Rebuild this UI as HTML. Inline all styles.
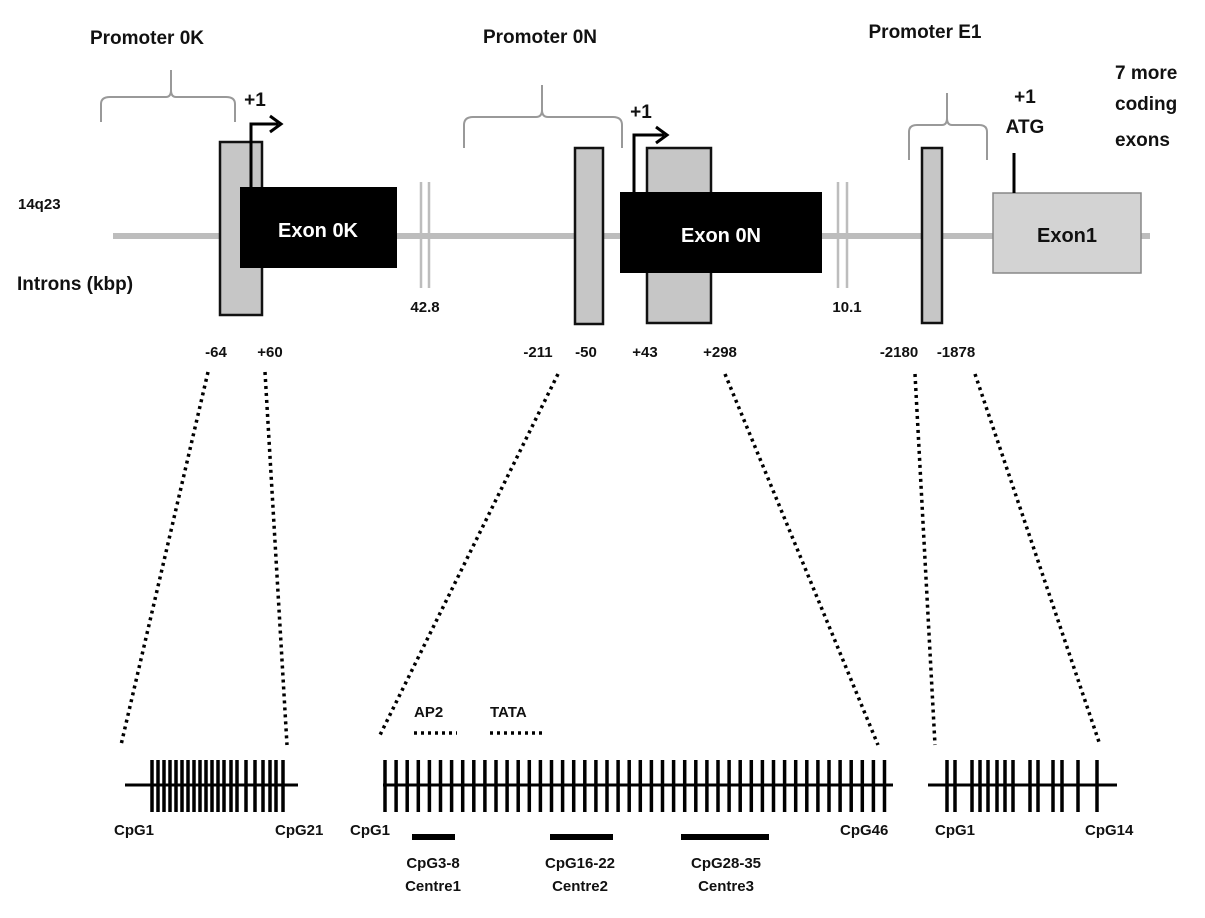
<!DOCTYPE html>
<html><head><meta charset="utf-8"><style>
html,body{margin:0;padding:0;background:#fff;}
svg{display:block;}
text{font-family:"Liberation Sans",sans-serif;font-weight:bold;fill:#111;}
</style></head><body>
<svg width="1205" height="918" viewBox="0 0 1205 918" xmlns="http://www.w3.org/2000/svg">
<line x1="113" y1="236" x2="1150" y2="236" stroke="#bdbdbd" stroke-width="6"/>
<g stroke="#bdbdbd" stroke-width="2.5">
<line x1="421" y1="182" x2="421" y2="288"/><line x1="429" y1="182" x2="429" y2="288"/>
<line x1="838" y1="182" x2="838" y2="288"/><line x1="847" y1="182" x2="847" y2="288"/>
</g>
<g fill="none" stroke="#999" stroke-width="2">
<path d="M101 122 V104 Q101 97 110 97 H166 Q171 97 171 90 V70 V90 Q171 97 176 97 H226 Q235 97 235 104 V122"/>
<path d="M464 148 V125 Q464 117 473 117 H536 Q542 117 542 110 V85 V110 Q542 117 548 117 H613 Q622 117 622 125 V148"/>
<path d="M909 160 V132 Q909 125 917 125 H942 Q947 125 947 118 V93 V118 Q947 125 952 125 H979 Q987 125 987 132 V160"/>
</g>
<g fill="#c6c6c6" stroke="#111" stroke-width="2.5">
<rect x="220" y="142" width="42" height="173"/>
<rect x="575" y="148" width="28" height="176"/>
<rect x="647" y="148" width="64" height="175"/>
<rect x="922" y="148" width="20" height="175"/>
</g>
<rect x="240" y="187" width="157" height="81" fill="#000"/>
<rect x="620" y="192" width="202" height="81" fill="#000"/>
<rect x="993" y="193" width="148" height="80" fill="#d3d3d3" stroke="#888" stroke-width="1.5"/>
<text x="318" y="237" font-size="20" style="fill:#fff" text-anchor="middle">Exon 0K</text>
<text x="721" y="242" font-size="20" style="fill:#fff" text-anchor="middle">Exon 0N</text>
<text x="1067" y="242" font-size="20" text-anchor="middle">Exon1</text>
<g fill="none" stroke="#000" stroke-width="3">
<path d="M251 187 V124 H278"/><path d="M270 116 L281 124 L270 132"/>
<path d="M634 192 V135 H664"/><path d="M656 127 L667 135 L656 143"/>
<line x1="1014" y1="153" x2="1014" y2="193"/>
</g>
<g font-size="19">
<text x="147" y="44" text-anchor="middle">Promoter 0K</text>
<text x="540" y="43" text-anchor="middle">Promoter 0N</text>
<text x="925" y="38" text-anchor="middle">Promoter E1</text>
<text x="255" y="106" text-anchor="middle">+1</text>
<text x="641" y="118" text-anchor="middle">+1</text>
<text x="1025" y="103" text-anchor="middle">+1</text>
<text x="1025" y="133" text-anchor="middle">ATG</text>
<text x="1115" y="79">7 more</text>
<text x="1115" y="110">coding</text>
<text x="1115" y="146">exons</text>
<text x="17" y="290">Introns (kbp)</text>
</g>
<g font-size="15">
<text x="18" y="209">14q23</text>
<text x="425" y="312" text-anchor="middle">42.8</text>
<text x="847" y="312" text-anchor="middle">10.1</text>
<text x="216" y="357" text-anchor="middle">-64</text>
<text x="270" y="357" text-anchor="middle">+60</text>
<text x="538" y="357" text-anchor="middle">-211</text>
<text x="586" y="357" text-anchor="middle">-50</text>
<text x="645" y="357" text-anchor="middle">+43</text>
<text x="720" y="357" text-anchor="middle">+298</text>
<text x="899" y="357" text-anchor="middle">-2180</text>
<text x="956" y="357" text-anchor="middle">-1878</text>
</g>
<g stroke="#000" stroke-width="3.5" stroke-dasharray="3 4" fill="none">
<line x1="208" y1="372" x2="121" y2="745"/>
<line x1="265" y1="372" x2="287" y2="745"/>
<line x1="558" y1="374" x2="380" y2="735"/>
<line x1="725" y1="374" x2="878" y2="745"/>
<line x1="915" y1="374" x2="935" y2="745"/>
<line x1="975" y1="374" x2="1100" y2="745"/>
<line x1="414" y1="733" x2="457" y2="733"/>
<line x1="490" y1="733" x2="543" y2="733"/>
</g>
<g stroke="#000" stroke-width="3" fill="none">
<line x1="125" y1="785" x2="298" y2="785"/>
<line x1="383" y1="785" x2="893" y2="785"/>
<line x1="928" y1="785" x2="1117" y2="785"/>
</g>
<g stroke="#000" stroke-width="3.5" fill="none">
<path d="M152 760v52M158 760v52M164 760v52M170 760v52M176 760v52M182 760v52M188 760v52M194 760v52M200 760v52M206 760v52M212 760v52M218 760v52M224 760v52M231 760v52M237 760v52M246 760v52M255 760v52M263 760v52M270 760v52M276 760v52M283 760v52"/>
<path d="M385 760v52m11.1 -52v52m11.1 -52v52m11.1 -52v52m11.1 -52v52m11.1 -52v52m11.1 -52v52m11.1 -52v52m11.1 -52v52m11.1 -52v52m11.1 -52v52m11.1 -52v52m11.1 -52v52m11.1 -52v52m11.1 -52v52m11.1 -52v52m11.1 -52v52m11.1 -52v52m11.1 -52v52m11.1 -52v52m11.1 -52v52m11.1 -52v52m11.1 -52v52m11.1 -52v52m11.1 -52v52m11.1 -52v52m11.1 -52v52m11.1 -52v52m11.1 -52v52m11.1 -52v52m11.1 -52v52m11.1 -52v52m11.1 -52v52m11.1 -52v52m11.1 -52v52m11.1 -52v52m11.1 -52v52m11.1 -52v52m11.1 -52v52m11.1 -52v52m11.1 -52v52m11.1 -52v52m11.1 -52v52m11.1 -52v52m11.1 -52v52m11.1 -52v52"/>
<path d="M947 760v52M955 760v52M972 760v52M980 760v52M988 760v52M997 760v52M1005 760v52M1013 760v52M1030 760v52M1038 760v52M1053 760v52M1062 760v52M1078 760v52M1097 760v52"/>
</g>
<g stroke="#000" stroke-width="6">
<line x1="412" y1="837" x2="455" y2="837"/>
<line x1="550" y1="837" x2="613" y2="837"/>
<line x1="681" y1="837" x2="769" y2="837"/>
</g>
<g font-size="15">
<text x="414" y="717">AP2</text>
<text x="490" y="717">TATA</text>
<text x="114" y="835">CpG1</text>
<text x="275" y="835">CpG21</text>
<text x="350" y="835">CpG1</text>
<text x="840" y="835">CpG46</text>
<text x="935" y="835">CpG1</text>
<text x="1085" y="835">CpG14</text>
<text x="433" y="868" text-anchor="middle">CpG3-8</text>
<text x="433" y="891" text-anchor="middle">Centre1</text>
<text x="580" y="868" text-anchor="middle">CpG16-22</text>
<text x="580" y="891" text-anchor="middle">Centre2</text>
<text x="726" y="868" text-anchor="middle">CpG28-35</text>
<text x="726" y="891" text-anchor="middle">Centre3</text>
</g>
</svg>
</body></html>
